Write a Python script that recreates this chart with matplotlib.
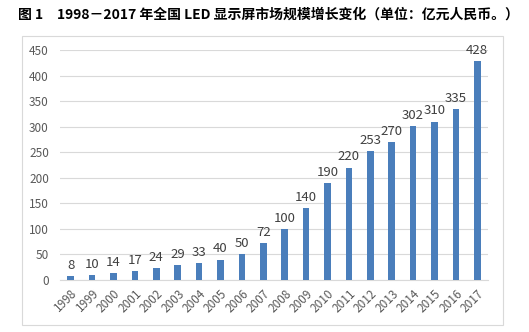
import matplotlib
matplotlib.use("Agg")
import matplotlib.pyplot as plt
from matplotlib.patches import Rectangle

plt.rcParams['font.family'] = ['Noto Sans CJK SC', 'DejaVu Sans']

years = [str(y) for y in range(1998, 2018)]
values = [8, 10, 14, 17, 24, 29, 33, 40, 50, 72, 100, 140, 190, 220, 253, 270, 302, 310, 335, 428]
title = "图 1　1998－2017 年全国 LED 显示屏市场规模增长变化（单位：亿元人民币。）"

fig = plt.figure(figsize=(5.29, 3.32), dpi=100)
fig.patch.set_facecolor("white")

# chart frame
fig.patches.append(Rectangle((22 / 529, 1 - 325 / 332), 481 / 529, 289 / 332,
                             transform=fig.transFigure, fill=False,
                             edgecolor="#d9d9d9", linewidth=0.8))

fig.text(18 / 529, 1 - 15 / 332, title, fontsize=10, fontweight="bold",
         va="center", ha="left", color="black")

ax = fig.add_axes([60 / 529, 1 - 280 / 332, 428 / 529, 230 / 332])
x = range(len(years))
ax.bar(x, values, width=0.3, color="#4A7EBB", zorder=3)
for xi, v in zip(x, values):
    ax.text(xi, v + 8, str(v), ha="center", va="bottom", fontsize=9.5, color="#404040")

ax.set_xlim(-0.5, len(years) - 0.5)
ax.set_ylim(0, 450)
ax.set_yticks(range(0, 451, 50))
ax.set_xticks(list(x))
ax.set_xticklabels(years, rotation=45, ha="right", rotation_mode="anchor")
ax.tick_params(axis="both", length=0, labelcolor="#595959")
ax.tick_params(axis="y", pad=8, labelsize=8.5)
ax.tick_params(axis="x", pad=5, labelsize=8.5)
ax.grid(axis="y", color="#d9d9d9", linewidth=0.8, zorder=0)
for s in ["top", "right", "left"]:
    ax.spines[s].set_visible(False)
ax.spines["bottom"].set_color("#d9d9d9")

fig.savefig("out.png", dpi=100)
